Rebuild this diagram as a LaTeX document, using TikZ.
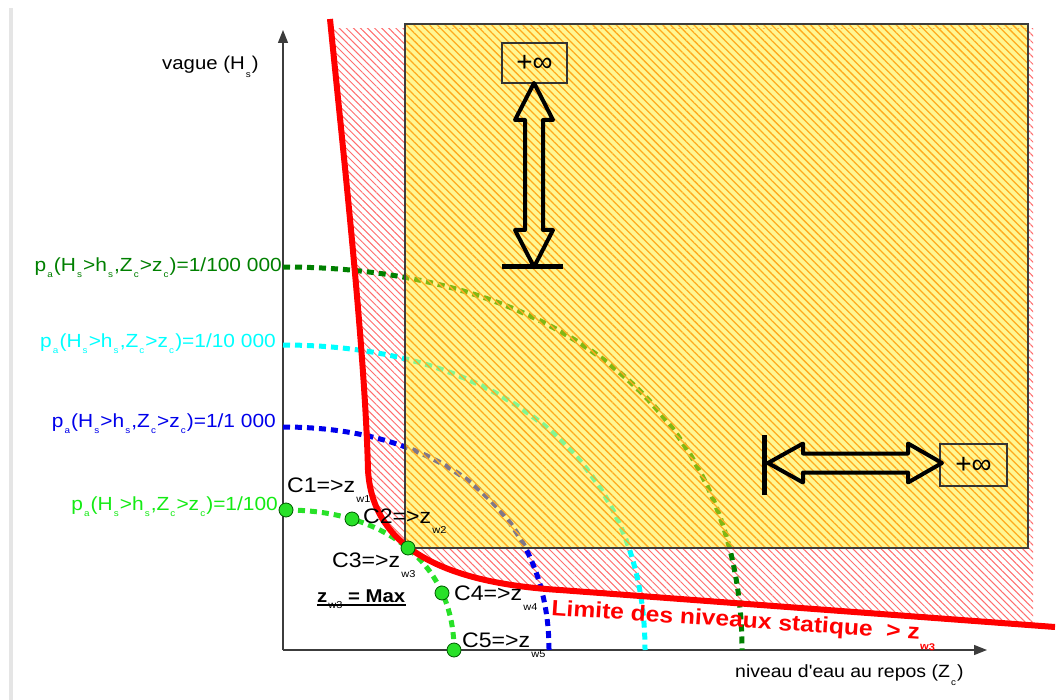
\documentclass[tikz,border=0pt]{standalone}
\usepackage{fontspec}
\setmainfont{Liberation Sans}
\usetikzlibrary{arrows.meta,patterns.meta}
\definecolor{dgreen}{RGB}{0,128,0}
\definecolor{lgreen}{RGB}{40,225,40}
\definecolor{lgtxt}{RGB}{20,235,20}
\definecolor{cyanc}{RGB}{0,255,255}
\definecolor{bluec}{RGB}{0,0,235}
\definecolor{redh}{RGB}{255,110,110}
\definecolor{yelc}{RGB}{255,240,40}
\definecolor{orac}{RGB}{255,170,30}
\definecolor{axisc}{RGB}{60,60,60}
\newcommand\sbx[2][6]{\kern1pt\raisebox{-#1pt}{\fontsize{9}{9}\selectfont #2}\kern1pt}
\newcommand\sbw[2][10]{\kern1pt\raisebox{-#1pt}{\fontsize{10}{10}\selectfont\mdseries #2}}
\newcommand\W[1]{\scalebox{1.1}[1]{#1}}
\tikzset{
  lbl/.style={inner sep=0pt, font=\fontsize{21}{21}\selectfont},
  plbl/.style={inner sep=0pt, anchor=base east, font=\fontsize{19}{19}\selectfont},
  curve/.style={line width=5pt, dash pattern=on 7pt off 5pt},
  ptc/.style={circle, fill=lgreen, draw=green!35!black, line width=0.8pt, minimum size=14pt, inner sep=0pt},
  infbox/.style={draw=black!80, line width=1.2pt, minimum width=65pt, minimum height=40pt, inner sep=0pt, font=\fontsize{28}{28}\selectfont},
  dblarrow/.style={draw=black, line width=4pt, line join=round},
  axisline/.style={draw=axisc, line width=1.3pt, -{Triangle[length=13pt,width=10pt]}},
}
\begin{document}
\begin{tikzpicture}[x=1pt,y=-1pt]
\useasboundingbox (0,0) rectangle (1064,700);
\fill[white] (0,0) rectangle (1064,700);
\fill[black!10] (9,8) rectangle (13,700);

% red hatched zone
\begin{scope}
\clip (0,29) rectangle (1064,700);
\fill[pattern={Lines[angle=-45,distance=5pt,line width=1pt]}, pattern color=redh, even odd rule]
  (330,19) -- (1033,19) -- (1033,625.3) -- (560,590) .. controls (430,582) and (372,540) .. (368,470)
  .. controls (365,350) and (343,150) .. (330,19) -- cycle
  (405,29) rectangle (1028,548);
\end{scope}

% axes
\coordinate (O) at (283,650);
\coordinate (ytop) at (283,30);
\coordinate (xend) at (987,650);
\draw[axisline] (O) -- (ytop);
\draw[axisline] (O) -- (xend);

% probability curves
\draw[curve, dgreen] (283,267) .. controls (563,267) and (742,416) .. (742,650);
\draw[curve, cyanc] (283,345) .. controls (504,345) and (645,464) .. (645,650);
\draw[curve, bluec] (283,427) .. controls (445,427) and (549,514) .. (549,650);
\coordinate (p1) at (286,510);
\coordinate (p2) at (352,519);
\coordinate (p3) at (408,548);
\coordinate (p4) at (442,593);
\coordinate (p5) at (454,650);
\draw[curve, lgreen] (p1) .. controls (387,510) and (454,565) .. (p5);

% yellow zone
\fill[yelc, fill opacity=0.5] (405,24) rectangle (1028,548);
\fill[pattern={Lines[angle=-45,distance=5.5pt,line width=1.3pt]}, pattern color=orac, fill opacity=0.4] (405,24) rectangle (1028,548);
\draw[axisc, line width=1.3pt] (405,24) rectangle (1028,548);

% red limit
\draw[red, line width=6pt] (330,19) .. controls (343,150) and (365,350) .. (368,470)
  .. controls (372,540) and (430,582) .. (560,590) -- (1055,627);

% points
\node[ptc] (c1) at (p1) {};
\node[ptc] (c2) at (p2) {};
\node[ptc] (c3) at (p3) {};
\node[ptc] (c4) at (p4) {};
\node[ptc] (c5) at (p5) {};

% infinity boxes and arrows
\node[infbox] (inftop) at (534.5,63) {+∞};
\node[infbox, minimum width=67pt, minimum height=42pt] (infright) at (973.5,465) {+∞};
\draw[dblarrow] (534,83) -- (553,120) -- (543,120) -- (543,230) -- (553,230) -- (534,267)
  -- (515,230) -- (525,230) -- (525,120) -- (515,120) -- cycle;
\draw[line width=5pt] (502,267) -- (563,267);
\draw[dblarrow] (768,463) -- (803,443.5) -- (803,453.5) -- (908,453.5) -- (908,443.5) -- (942,463)
  -- (908,482.5) -- (908,472.5) -- (803,472.5) -- (803,482.5) -- cycle;
\draw[line width=5pt] (764,435) -- (764,495);

% labels
\node[lbl, anchor=base west, font=\fontsize{18.5}{18.5}\selectfont] (vague) at (162,70) {\W{vague (H\sbx[8]{s})}};
\node[plbl, text=dgreen] (l5) at (282,272) {\W{p\sbx{a}(H\sbx{s}>h\sbx{s},Z\sbx{c}>z\sbx{c})=1/100 000}};
\node[plbl, text=cyanc] (l4) at (276,347) {\W{p\sbx{a}(H\sbx{s}>h\sbx{s},Z\sbx{c}>z\sbx{c})=1/10 000}};
\node[plbl, text=bluec] (l3) at (276,427) {\W{p\sbx{a}(H\sbx{s}>h\sbx{s},Z\sbx{c}>z\sbx{c})=1/1 000}};
\node[plbl, text=lgtxt] (l2) at (278,510) {\W{p\sbx{a}(H\sbx{s}>h\sbx{s},Z\sbx{c}>z\sbx{c})=1/100}};
\node[lbl, anchor=base west] (t1) at (287,492) {\W{C1=>z\sbw{w1}}};
\node[lbl, anchor=base west] (t2) at (363,523) {\W{C2=>z\sbw{w2}}};
\node[lbl, anchor=base west] (t3) at (332,567) {\W{C3=>z\sbw{w3}}};
\node[lbl, anchor=base west] (t4) at (454,600) {\W{C4=>z\sbw{w4}}};
\node[lbl, anchor=base west] (t5) at (462,647) {\W{C5=>z\sbw{w5}}};
\node[lbl, anchor=base west, font=\fontsize{18.5}{18.5}\selectfont\bfseries] (zmax) at (317,602) {\W{z\sbw[6]{w3} = Max}};
\draw[line width=1.8pt] ([yshift=-3pt]zmax.base west) -- ([yshift=-3pt]zmax.base east);
\node[lbl, anchor=base west, rotate=-3.8, text=red, font=\fontsize{22}{22}\selectfont\bfseries] (lim) at (551,615) {\scalebox{1.12}[1]{Limite des niveaux statique\ \ > z\sbw[10]{\bfseries w3}}};
\node[lbl, anchor=base west, font=\fontsize{17.7}{17.7}\selectfont] (niv) at (735,677) {\W{niveau d\textquotesingle eau au repos (Z\sbx[8]{c})}};
\end{tikzpicture}
\end{document}
